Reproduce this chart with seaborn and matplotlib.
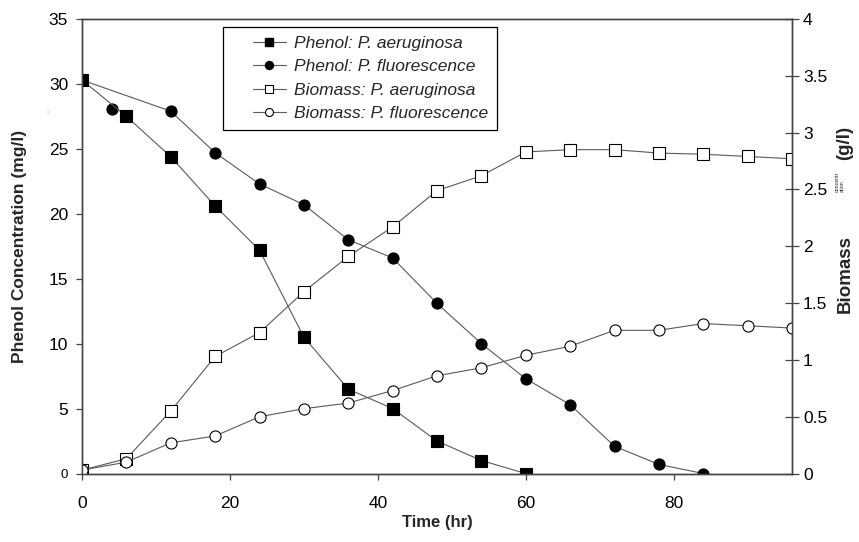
import matplotlib
matplotlib.use("Agg")
import matplotlib.pyplot as plt
from matplotlib.lines import Line2D
from matplotlib.legend_handler import HandlerLine2D
import pandas as pd
import seaborn as sns

# values
TIME_PA = [0, 6, 12, 18, 24, 30, 36, 42, 48, 54, 60]
PHENOL_PA = [30.3, 27.5, 24.4, 20.6, 17.2, 10.5, 6.5, 5.0, 2.5, 1.0, 0.0]

TIME_PF = [0, 4, 12, 18, 24, 30, 36, 42, 48, 54, 60, 66, 72, 78, 84]
PHENOL_PF = [30.3, 28.1, 27.9, 24.7, 22.3, 20.7, 18.0, 16.6, 13.1, 10.0, 7.3, 5.3, 2.1, 0.7, 0.0]

TIME_BIO = [0, 6, 12, 18, 24, 30, 36, 42, 48, 54, 60, 66, 72, 78, 84, 90, 96]
BIOMASS_PA = [0.03, 0.13, 0.55, 1.03, 1.24, 1.60, 1.91, 2.17, 2.49, 2.62, 2.83, 2.85,
              2.85, 2.82, 2.81, 2.79, 2.77]
BIOMASS_PF = [0.03, 0.10, 0.27, 0.33, 0.50, 0.57, 0.62, 0.73, 0.86, 0.93, 1.04, 1.12,
              1.26, 1.26, 1.32, 1.30, 1.28]

LABELS = ["Phenol: P. aeruginosa", "Phenol: P. fluorescence",
          "Biomass: P. aeruginosa", "Biomass: P. fluorescence"]
X_TICKS = [0, 20, 40, 60, 80]
Y_TICKS = [0, 5, 10, 15, 20, 25, 30, 35]
Y2_TICKS = [0, 0.5, 1, 1.5, 2, 2.5, 3, 3.5, 4]

sns.set_theme(style="ticks")
plt.rcParams["font.family"] = ["Liberation Sans", "DejaVu Sans"]

LINE = "#5a5a5a"
SPINE = "#444444"

df_pa = pd.DataFrame({"t": TIME_PA, "v": PHENOL_PA})
df_pf = pd.DataFrame({"t": TIME_PF, "v": PHENOL_PF})
df_bio = pd.DataFrame({"t": TIME_BIO, "pa": BIOMASS_PA, "pf": BIOMASS_PF})

fig = plt.figure(figsize=(8.59, 5.42), dpi=100)
ax = fig.add_axes([82 / 859, 1 - 473.5 / 542, 710 / 859, 454.5 / 542])
ax2 = ax.twinx()

common = dict(color=LINE, linewidth=0.8, markeredgecolor="black",
              markeredgewidth=0.8, markersize=8)
marker_only = {k: v for k, v in common.items() if k not in ("color", "linewidth")}

# phenol, P. fluorescence: the line runs past the 4 h point
sns.lineplot(data=df_pf.drop(index=1), x="t", y="v", ax=ax, color=LINE, linewidth=0.8)
sns.lineplot(data=df_pf, x="t", y="v", ax=ax, linestyle="", marker="o",
             markerfacecolor="black", **marker_only)
sns.lineplot(data=df_pa, x="t", y="v", ax=ax, marker="s", markerfacecolor="black", **common)

sns.lineplot(data=df_bio, x="t", y="pa", ax=ax2, marker="s", markerfacecolor="white", **common)
sns.lineplot(data=df_bio, x="t", y="pf", ax=ax2, marker="o", markerfacecolor="white", **common)

ax.set_xlim(0, 96)
ax.set_ylim(0, 35)
ax2.set_ylim(0, 4)
ax.set_xticks(X_TICKS)
ax.set_yticks(Y_TICKS)
ax2.set_yticks(Y2_TICKS)
ax2.set_yticklabels([f"{v:g}" for v in Y2_TICKS])

for a in (ax, ax2):
    for s in a.spines.values():
        s.set_color(SPINE)
        s.set_linewidth(1.0)
        s.set_visible(True)

ax.tick_params(axis="x", direction="out", length=4, width=0.9, color=SPINE,
               pad=12, labelsize=12.5, labelcolor="black")
ax.tick_params(axis="y", direction="out", length=4, width=0.9, color=SPINE,
               pad=6, labelsize=12.5, labelcolor="black")
ax2.tick_params(axis="y", direction="inout", length=10, width=0.9, color=SPINE,
                pad=3, labelsize=12.5, labelcolor="black")
ax.get_yticklabels()[0].set_fontsize(9.5)

ax.set_xlabel("Time (hr)", fontsize=12, fontweight="bold")
ax.xaxis.set_label_coords(0.5, -0.092)
ax.set_ylabel("Phenol Concentration (mg/l)", fontsize=12.5, fontweight="bold")
ax.yaxis.set_label_coords(-0.078, 0.5)
ax2.set_ylabel("")

# right axis title as in the original: bold words with a tiny word between
fig.text(845 / 859, 1 - 274 / 542, "Biomass", rotation=90, ha="center", va="center",
         fontsize=13.5, fontweight="bold")
fig.text(845 / 859, 1 - 143 / 542, "(g/l)", rotation=90, ha="center", va="center",
         fontsize=13.5, fontweight="bold")
fig.text(839.5 / 859, 1 - 192 / 542, "concentr\nation", rotation=90, ha="center",
         va="bottom", multialignment="left", fontsize=3.8, linespacing=1.0)
fig.text(48 / 859, 1 - 112 / 542, "=", fontsize=3, color="#777777", ha="center", va="center")

handles = [
    Line2D([], [], color=LINE, lw=0.8, marker="s", mfc="black", mec="black", ms=8),
    Line2D([], [], color=LINE, lw=0.8, marker="o", mfc="black", mec="black", ms=8),
    Line2D([], [], color=LINE, lw=0.8, marker="s", mfc="white", mec="black", ms=8, mew=0.8),
    Line2D([], [], color=LINE, lw=0.8, marker="o", mfc="white", mec="black", ms=8, mew=0.8),
]
leg = ax2.legend(handles, LABELS, loc="upper left", bbox_to_anchor=(0.199, 0.982),
                 borderaxespad=0, frameon=True, fancybox=False, shadow=False,
                 prop={"style": "italic", "size": 12.5}, handlelength=3.1,
                 handletextpad=0.5, labelspacing=0.47, borderpad=0.5, markerscale=0.72,
                 handler_map={Line2D: HandlerLine2D(xpad=1.2)})
leg.get_frame().set_edgecolor("black")
leg.get_frame().set_linewidth(0.9)
leg.get_frame().set_alpha(1)

fig.savefig("out.png", dpi=100)
